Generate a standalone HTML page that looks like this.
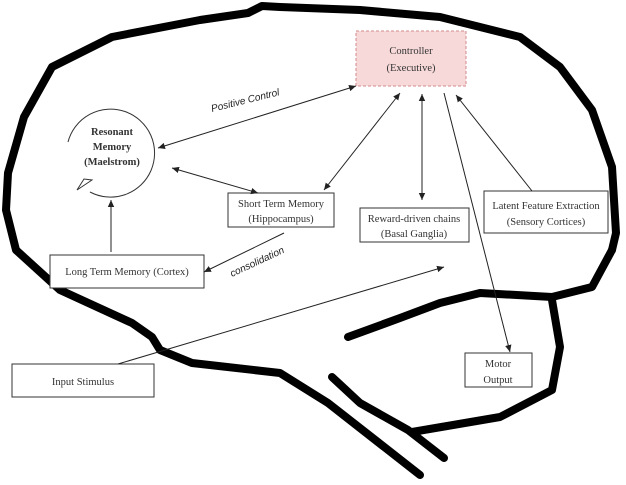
<!DOCTYPE html>
<html><head><meta charset="utf-8"><style>
html,body{margin:0;padding:0;background:#fff;width:626px;height:485px;overflow:hidden}
svg{display:block}
.t{font-family:"Liberation Serif",serif;font-size:10.5px;fill:#333}
.i{font-family:"Liberation Sans",sans-serif;font-size:10px;font-style:italic;fill:#222}
</style></head><body>
<svg width="626" height="485" viewBox="0 0 626 485" xmlns="http://www.w3.org/2000/svg">
<defs>
<marker id="a" markerWidth="8" markerHeight="8" refX="7" refY="4" orient="auto-start-reverse" markerUnits="userSpaceOnUse"><path d="M0,0.8 L7,4 L0,7.2 Z" fill="#222"/></marker>
</defs>
<g fill="none" stroke="#000" stroke-width="8" stroke-linecap="round" stroke-linejoin="round">
<path d="M420,475 L328,403 L280,373 L192,363 L160,350 L152,337 L132,323 L60,290 L16,250 L6,210 L8,173 L24,117 L52,67 L112,37 L200,20 L248,13 L262,6 L280,7 L360,10 L440,17 L520,37 L560,67 L592,110 L612,167 L616,233 L612,250"/>
<path d="M348,337 L400,318 L440,303 L480,293 L552,297 L592,287 L612,250"/>
<path d="M552,300 L560,347 L552,390 L500,417 L412,432"/>
<path d="M332,377 L360,403 L408,430 L444,458"/>
</g>
<rect x="356" y="31" width="110" height="55" fill="#f8d9d9" stroke="#d08a8a" stroke-dasharray="3,2"/>
<text class="t" x="411" y="54" text-anchor="middle" font-size="12">Controller</text>
<text class="t" x="411" y="71" text-anchor="middle" font-size="12">(Executive)</text>
<g fill="#fff" stroke="#333" stroke-width="1">
<rect x="228" y="193" width="106" height="34"/>
<rect x="360" y="208" width="109" height="34"/>
<rect x="484" y="191" width="124" height="42"/>
<rect x="50" y="255" width="154" height="33"/>
<rect x="12" y="364" width="142" height="33"/>
<rect x="465" y="353" width="67" height="34"/>
</g>
<text class="t" x="281" y="207" text-anchor="middle" font-size="10">Short Term Memory</text>
<text class="t" x="281" y="222" text-anchor="middle" font-size="10">(Hippocampus)</text>
<text class="t" x="414" y="222" text-anchor="middle" font-size="10">Reward-driven chains</text>
<text class="t" x="414" y="237" text-anchor="middle" font-size="10">(Basal Ganglia)</text>
<text class="t" x="546" y="209" text-anchor="middle" font-size="10">Latent Feature Extraction</text>
<text class="t" x="546" y="225" text-anchor="middle" font-size="10">(Sensory Cortices)</text>
<text class="t" x="127" y="275" text-anchor="middle" font-size="10">Long Term Memory (Cortex)</text>
<text class="t" x="83" y="385" text-anchor="middle" font-size="12">Input Stimulus</text>
<text class="t" x="498" y="367" text-anchor="middle" font-size="12">Motor</text>
<text class="t" x="498" y="383" text-anchor="middle" font-size="12">Output</text>
<path d="M68,142 A44,44 0 1 1 90,192" fill="none" stroke="#333" stroke-width="1"/>
<path d="M77,190 L84,179 L92,180 Z" fill="#fff" stroke="#333" stroke-width="1"/>
<text class="t" x="112" y="135" text-anchor="middle" font-weight="bold" font-size="9.5">Resonant</text>
<text class="t" x="112" y="150" text-anchor="middle" font-weight="bold" font-size="9.5">Memory</text>
<text class="t" x="112" y="165" text-anchor="middle" font-weight="bold" font-size="9.5">(Maelstrom)</text>
<g stroke="#222" stroke-width="1" fill="none">
<line x1="158" y1="148" x2="356" y2="86" marker-start="url(#a)" marker-end="url(#a)"/>
<line x1="172" y1="168" x2="258" y2="193" marker-start="url(#a)" marker-end="url(#a)"/>
<line x1="400" y1="93" x2="324" y2="190" marker-start="url(#a)" marker-end="url(#a)"/>
<line x1="422" y1="94" x2="422" y2="200" marker-start="url(#a)" marker-end="url(#a)"/>
<line x1="444" y1="93" x2="510" y2="352" marker-end="url(#a)"/>
<line x1="532" y1="191" x2="456" y2="95" marker-end="url(#a)"/>
<line x1="111" y1="252" x2="111" y2="200" marker-end="url(#a)"/>
<line x1="284" y1="233" x2="204" y2="272" marker-end="url(#a)"/>
<line x1="118" y1="364" x2="444" y2="267" marker-end="url(#a)"/>
</g>
<text class="i" transform="translate(212,112) rotate(-14)">Positive Control</text>
<text class="i" transform="translate(232,277) rotate(-25)">consolidation</text>
</svg>
</body></html>
